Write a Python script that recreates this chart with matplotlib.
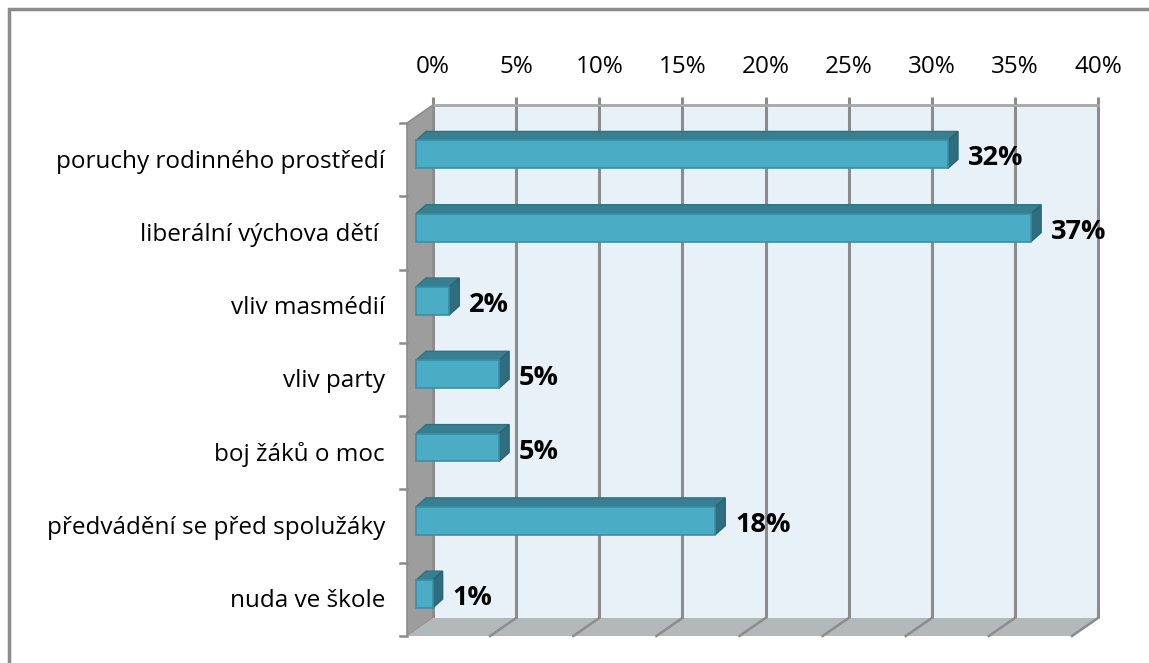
import matplotlib.pyplot as plt
from matplotlib.patches import Polygon, Rectangle

# data
categories = ['poruchy rodinného prostředí', 'liberální výchova dětí ', 'vliv masmédií',
              'vliv party', 'boj žáků o moc', 'předvádění se před spolužáky', 'nuda ve škole']
values = [32, 37, 2, 5, 5, 18, 1]
ticks = [0, 5, 10, 15, 20, 25, 30, 35, 40]
tick_labels = ['0%', '5%', '10%', '15%', '20%', '25%', '30%', '35%', '40%']

plt.rcParams['font.family'] = ['Open Sans', 'DejaVu Sans']

W, H = 1149, 663
fig = plt.figure(figsize=(W / 100, H / 100), dpi=100)

# back wall of the 3d plot in pixels: x 433..1098, y 105..618
ax = fig.add_axes([433 / W, (H - 618) / H, 665 / W, 513 / H])
ax.set_xlim(0, 40)
ax.set_ylim(len(categories), 0)
ax.axis('off')

ppx = 665 / 40
ppy = 513 / len(categories)


def px(dx, dy):
    # pixel offset -> data offset (y grows downwards)
    return dx / ppx, dy / ppy


n = len(categories)
wx, wy = px(-26, 18)  # depth of walls
grid_c = '#8C8C8C'

# outer border
fig.patches.append(Rectangle((9 / W, -0.01), 1.02, 1 - 9 / H + 0.01, transform=fig.transFigure,
                             fill=False, edgecolor='#8C8C8C', lw=2.5))

# back wall
ax.add_patch(Rectangle((0, 0), 40, n, facecolor='#E9F1F8', edgecolor='none', zorder=0, clip_on=False))
for t in ticks:
    ax.plot([t, t], [0, n], color=grid_c, lw=2.2, zorder=1, clip_on=False, solid_capstyle='butt')
    ax.plot([t, t], [0, px(0, -8)[1]], color=grid_c, lw=2.2, zorder=1, clip_on=False, solid_capstyle='butt')
ax.plot([0, 40], [0, 0], color='#A6A6A6', lw=2, zorder=1, clip_on=False)

# side wall
ax.add_patch(Polygon([(0, 0), (0, n), (wx, n + wy), (wx, wy)], closed=True,
                     facecolor='#9D9D9D', edgecolor='#8C8C8C', lw=1.2, zorder=2, clip_on=False))
# floor
ax.add_patch(Polygon([(0, n), (40, n), (40 + wx, n + wy), (wx, n + wy)], closed=True,
                     facecolor='#B3B8BB', edgecolor='none', zorder=2, clip_on=False))
for t in ticks[1:]:
    ax.plot([t, t + wx], [n, n + wy], color=grid_c, lw=1.8, zorder=3, clip_on=False)

# category ticks on the front edge
tl = px(-7, 0)[0]
for i in range(n + 1):
    ax.plot([wx + tl, wx], [i + wy, i + wy], color=grid_c, lw=1.8, zorder=3, clip_on=False)

for i, name in enumerate(categories):
    ax.text(wx + px(-22, 0)[0], i + 0.5 + wy + px(0, 2)[1], name, ha='right', va='center',
            fontsize=17.5, color='#000000', clip_on=False)

for t, lab in zip(ticks, tick_labels):
    ax.text(t, px(0, -38)[1], lab, ha='center', va='center', fontsize=17.5, clip_on=False)

# bars
fx, fy = px(-17, 12)
bx, by = px(-7, 3)
for i, v in enumerate(values):
    y0, y1 = i + 0.32, i + 0.70
    top = [(fx, y0 + fy), (v + fx, y0 + fy), (v + bx, y0 + by), (bx, y0 + by)]
    side = [(v + fx, y0 + fy), (v + bx, y0 + by), (v + bx, y1 + by), (v + fx, y1 + fy)]
    ax.add_patch(Polygon(top, closed=True, facecolor='#377F91', edgecolor='#2F7283', lw=1, zorder=4, clip_on=False))
    ax.add_patch(Polygon(side, closed=True, facecolor='#2F6E7F', edgecolor='#2A6474', lw=1, zorder=4, clip_on=False))
    ax.add_patch(Rectangle((fx, y0 + fy), v, y1 - y0, facecolor='#4BACC6', edgecolor='#3A8FA6',
                           lw=1.2, zorder=5, clip_on=False))
    ax.text(v + fx + px(20, 0)[0], (y0 + y1) / 2 + fy + px(0, 4)[1], f'{v}%', ha='left', va='center',
            fontsize=19.5, fontweight='bold', zorder=6, clip_on=False)

fig.savefig('out.png', dpi=100)
